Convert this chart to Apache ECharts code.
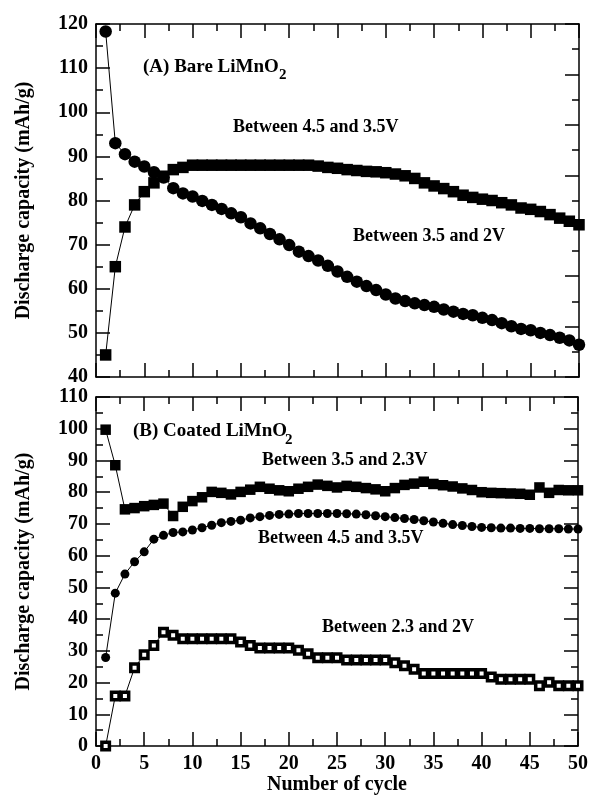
<!DOCTYPE html>
<html>
<head>
<meta charset="utf-8">
<script src="https://cdn.jsdelivr.net/npm/echarts@6/dist/echarts.min.js"></script>
<style>html,body{margin:0;padding:0;background:#fff}#c{width:591px;height:796px}</style>
</head>
<body>
<div id="c"></div>
<script>
const cycles = [1,2,3,4,5,6,7,8,9,10,11,12,13,14,15,16,17,18,19,20,21,22,23,24,25,26,27,28,29,30,31,32,33,34,35,36,37,38,39,40,41,42,43,44,45,46,47,48,49,50];
// Panel A: bare LiMnO2
const bare_45_35 = [45,65,74,79,82,84,85.5,87,87.5,88, 88,88,88,88,88,88,88,88,88,88,88,88, 87.8,87.5,87.3,87,86.8,86.6,86.5,86.3,86,85.6, 85,84,83.3,82.7,82,81.2,80.7,80.3,80,79.5, 79,78.3,78,77.5,76.8,76,75.3,74.5];
const bare_35_2 = [118.3,93,90.5,88.8,87.7,86.4,85.2,82.8,81.6,80.9, 79.9,79,78.1,77.1,76.2,74.8,73.7,72.4,71.2,69.9, 68.4,67.4,66.4,65.2,63.9,62.7,61.6,60.6,59.7,58.7, 57.8,57.2,56.7,56.3,55.9,55.3,54.8,54.3,54.0,53.4, 52.9,52.2,51.5,50.9,50.6,50.0,49.5,48.9,48.3,47.3];
// Panel B: coated LiMnO2
const coated_35_23 = [99.7,88.5,74.6,75,75.6,76,76.4,72.5,75.4,77.2, 78.4,80.1,79.8,79.3,80.1,80.8,81.7,81.1,80.6,80.3, 81.1,81.7,82.4,82,81.5,82,81.7,81.3,80.9,80.3, 81.3,82.3,82.7,83.3,82.6,82.2,81.8,81.2,80.7,80, 79.8,79.7,79.6,79.5,79.2,81.5,79.8,80.7,80.6,80.6];
const coated_45_35 = [27.9,48.2,54.2,58.1,61.2,65.2,66.4,67.3,67.5,68.1, 68.8,69.6,70.4,70.8,71.2,71.9,72.3,72.7,73.0,73.1, 73.3,73.3,73.3,73.3,73.3,73.2,73.1,72.9,72.6,72.3, 72.0,71.7,71.4,71.0,70.6,70.2,69.8,69.5,69.2,68.9, 68.8,68.7,68.7,68.6,68.6,68.5,68.5,68.5,68.4,68.4];
const coated_23_2 = [0,15.8,15.8,24.7,28.8,31.7,35.9,34.9,33.8,33.8, 33.8,33.8,33.8,33.8,32.8,31.7,30.9,30.9,30.9,30.9, 30.2,29.1,27.8,27.8,27.8,27.1,27.1,27.1,27.1,27.1, 26.3,25.3,24.2,22.9,22.9,22.9,22.9,22.9,22.9,22.9, 21.8,21.1,21.1,21.1,21.1,19.0,20.1,19.0,19.0,19.0];

const yNameA = 'Discharge capacity (mAh/g)';
const xName = 'Number of cycle';

const FONT = "'Liberation Serif','Times New Roman','DejaVu Serif',serif";
const pair = arr => arr.map((v,i)=>[cycles[i], v]);

function xAxis(grid, pos, showLabel, name){
  return {
    type:'value', gridIndex:grid, position:pos, min:0, max:50, interval:5,
    name: name || '', nameLocation:'middle', nameGap:26,
    nameTextStyle:{color:'#000', fontFamily:FONT, fontWeight:'bold', fontSize:20},
    axisLine:{show:true, onZero:false, lineStyle:{color:'#000', width:1.5}},
    axisTick:{show:true, inside:true, length:14, lineStyle:{color:'#000', width:1.5}},
    minorTick:{show:true, splitNumber:2, length:7, lineStyle:{color:'#000', width:1.5}},
    axisLabel:{show:showLabel, color:'#000', fontFamily:FONT, fontWeight:'bold', fontSize:20, margin:8},
    splitLine:{show:false}, minorSplitLine:{show:false}
  };
}
function yAxis(grid, pos, min, max, interval, showLabel, name){
  return {
    type:'value', gridIndex:grid, position:pos, min:min, max:max, interval:interval,
    name: name || '', nameLocation:'middle', nameGap:62,
    nameTextStyle:{color:'#000', fontFamily:FONT, fontWeight:'bold', fontSize:20},
    axisLine:{show:true, onZero:false, lineStyle:{color:'#000', width:1.5}},
    axisTick:{show:true, inside:true, length:14, lineStyle:{color:'#000', width:1.5}},
    minorTick:{show:true, splitNumber:2, length:7, lineStyle:{color:'#000', width:1.5}},
    axisLabel:{show:showLabel, color:'#000', fontFamily:FONT, fontWeight:'bold', fontSize:20, margin:8},
    splitLine:{show:false}, minorSplitLine:{show:false}
  };
}
function line(name, data, xi, yi, symbol, size, style){
  return {
    name:name, type:'line', xAxisIndex:xi, yAxisIndex:yi, data:pair(data),
    symbol:symbol, symbolSize:size, showSymbol:true, animation:false,
    lineStyle:{color:'#000', width:1},
    itemStyle: style || {color:'#000', opacity:1},
    emphasis:{disabled:true}, z:3
  };
}
function txt(x, y, s, size){
  return {type:'text', x:x, y:y, z:100, style:{text:s, fill:'#000', font:'bold '+(size||18)+'px '+FONT, verticalAlign:'middle', textVerticalAlign:'middle'}};
}

const chart = echarts.init(document.getElementById('c'), null, {renderer:'canvas'});
chart.setOption({
  backgroundColor:'#fff',
  animation:false,
  grid:[
    {left:96, right:12, top:24, height:353},
    {left:96, right:12, top:397, height:351}
  ],
  xAxis:[
    xAxis(0,'bottom',false),
    xAxis(0,'top',false),
    xAxis(1,'bottom',true,xName),
    xAxis(1,'top',false)
  ],
  yAxis:[
    yAxis(0,'left',40,120,10,true,yNameA),
    yAxis(0,'right',0,14,2,false),
    yAxis(1,'left',0,110,10,true,yNameA),
    yAxis(1,'right',0,110,10,false)
  ],
  series:[
    line('Between 3.5 and 2V', bare_35_2, 0, 0, 'circle', 12.5),
    line('Between 4.5 and 3.5V', bare_45_35, 0, 0, 'rect', 11.5),
    line('Between 3.5 and 2.3V', coated_35_23, 2, 2, 'rect', 10.5),
    line('Between 4.5 and 3.5V (B)', coated_45_35, 2, 2, 'circle', 9),
    line('Between 2.3 and 2V', coated_23_2, 2, 2, 'rect', 7.5, {color:'#fff', borderColor:'#000', borderWidth:3.5, opacity:1})
  ],
  graphic:[
    txt(143, 67, '(A) Bare LiMnO', 19),
    txt(279, 75, '2', 15),
    txt(233, 127, 'Between 4.5 and 3.5V'),
    txt(353, 236, 'Between 3.5 and 2V'),
    txt(133, 431, '(B) Coated LiMnO', 19),
    txt(285, 440, '2', 15),
    txt(262, 460, 'Between 3.5 and 2.3V'),
    txt(258, 538, 'Between 4.5 and 3.5V'),
    txt(322, 627, 'Between 2.3 and 2V')
  ]
});
</script>
</body>
</html>
